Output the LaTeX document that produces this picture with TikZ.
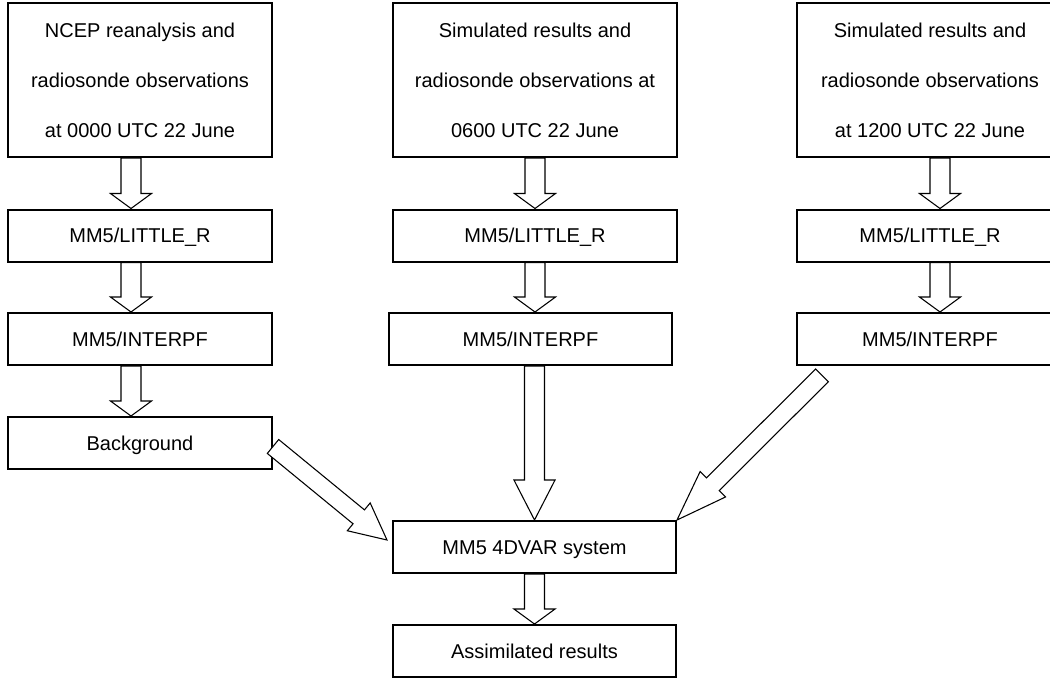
\documentclass[tikz,border=0pt]{standalone}
\usepackage{fontspec}
\setmainfont{Liberation Sans}
\usetikzlibrary{calc}

\tikzset{
  box/.style={draw, line width=1.5pt, inner sep=0pt, align=center,
    font=\fontsize{15}{37.5}\selectfont, minimum height=39pt},
  srcbox/.style={box, minimum height=115.5pt},
  stepbox/.style={box, text height=11pt, text depth=0pt},
  blockarrow/.style={draw, fill=white, line width=0.8pt},
}

% hollow block arrow: [head length]{tail}{tip}
\def\shaftw{7.5pt}
\def\headw{15.4pt}
\newcommand{\blockarrow}[3][11.25pt]{%
  \coordinate (ba-s) at (#2);
  \coordinate (ba-t) at (#3);
  \coordinate (ba-m) at ($(ba-t)!#1!(ba-s)$);
  \draw[blockarrow]
    ($(ba-s)!\shaftw!90:(ba-t)$) -- ($(ba-m)!\shaftw!90:(ba-t)$)
    -- ($(ba-m)!\headw!90:(ba-t)$) -- (ba-t)
    -- ($(ba-m)!\headw!-90:(ba-t)$) -- ($(ba-m)!\shaftw!-90:(ba-t)$)
    -- ($(ba-s)!\shaftw!-90:(ba-t)$) -- cycle;
}

\begin{document}
\begin{tikzpicture}[x=0.75pt,y=-0.75pt]
  \useasboundingbox (0,0) rectangle (1050,679);
  \clip (0,0) rectangle (1050,679);

  % input data
  \node[srcbox, minimum width=198pt] (src1) at (140,80) {NCEP reanalysis and\\radiosonde observations\\at 0000 UTC 22 June};
  \node[srcbox, minimum width=213pt] (src2) at (535,80) {Simulated results and\\radiosonde observations at\\0600 UTC 22 June};
  \node[srcbox, minimum width=199.5pt] (src3) at (930,80) {Simulated results and\\radiosonde observations\\at 1200 UTC 22 June};

  % preprocessing
  \node[stepbox, minimum width=198pt] (lit1) at (140,235.5) {MM5/LITTLE\_R};
  \node[stepbox, minimum width=213pt] (lit2) at (535,235.5) {MM5/LITTLE\_R};
  \node[stepbox, minimum width=199.5pt] (lit3) at (930,235.5) {MM5/LITTLE\_R};

  \node[stepbox, minimum width=198pt] (int1) at (140,339) {MM5/INTERPF};
  \node[stepbox, minimum width=212.25pt] (int2) at (530.5,339) {MM5/INTERPF};
  \node[stepbox, minimum width=199.5pt] (int3) at (930,339) {MM5/INTERPF};

  \node[stepbox, minimum width=198pt] (bg) at (140,443) {Background};

  % assimilation
  \node[stepbox, minimum width=212.25pt] (sys) at (534.5,547) {MM5 4DVAR system};
  \node[stepbox, minimum width=212.25pt] (res) at (534.5,651) {Assimilated results};

  % left column
  \blockarrow{[xshift=-6.75pt]src1.south}{[xshift=-6.75pt]lit1.north}
  \blockarrow{[xshift=-6.75pt]lit1.south}{[xshift=-6.75pt]int1.north}
  \blockarrow{[xshift=-6.75pt]int1.south}{[xshift=-6.75pt]bg.north}

  % middle column
  \blockarrow{src2.south}{lit2.north}
  \blockarrow{lit2.south}{lit2.south |- int2.north}
  \blockarrow[30pt]{int2.south -| sys.north}{sys.north}
  \blockarrow{sys.south}{res.north}

  % right column
  \blockarrow{[xshift=7.5pt]src3.south}{[xshift=7.5pt]lit3.north}
  \blockarrow{[xshift=7.5pt]lit3.south}{[xshift=7.5pt]int3.north}

  % diagonal inputs
  \begin{scope}
    \def\shaftw{6.75pt}
    \def\headw{13.5pt}
    \blockarrow[27.4pt]{[yshift=-2.6pt]bg.east}{[xshift=-3.75pt,yshift=5.25pt]sys.west}
    \blockarrow[38pt]{[xshift=19.5pt,yshift=-7pt]int3.south west}{sys.north east}
  \end{scope}
\end{tikzpicture}
\end{document}
